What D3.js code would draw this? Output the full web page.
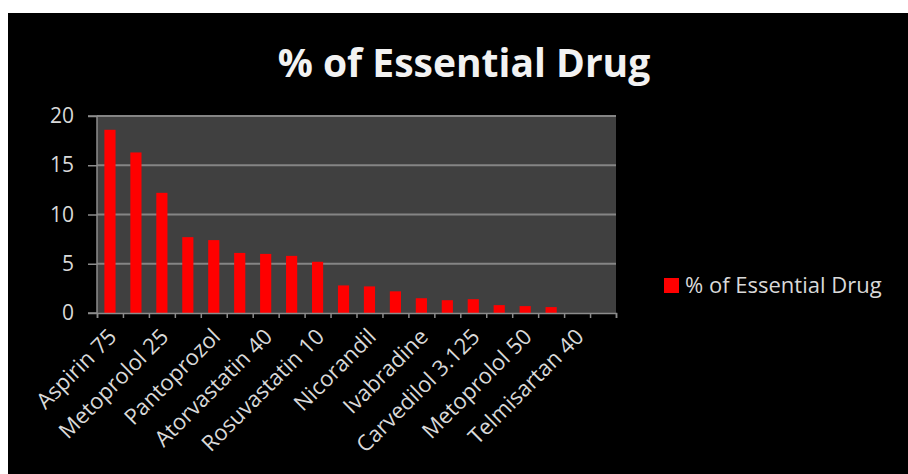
<!DOCTYPE html>
<html lang="en">
<head>
    <meta charset="utf-8">
    <title>% of Essential Drug</title>
    <style>
        body{ margin:0; background:#fff; }
        text{ font-family: "Open Sans", sans-serif; }
    </style>
    <script type="text/javascript" src="https://d3js.org/d3.v7.min.js"></script>
</head>
<body>
    <div class="chart"></div>

    <script type="text/javascript">
        // DATA ------------------------------
        // only every other category name is printed on the axis, the rest are unreadable
        const drugs = ["Aspirin 75", null, "Metoprolol 25", null, "Pantoprozol", null,
            "Atorvastatin 40", null, "Rosuvastatin 10", null, "Nicorandil", null,
            "Ivabradine", null, "Carvedilol 3.125", null, "Metoprolol 50", null,
            "Telmisartan 40", null];
        const percent = [18.6, 16.3, 12.2, 7.7, 7.4, 6.1, 6.0, 5.8, 5.2, 2.8,
            2.7, 2.2, 1.5, 1.3, 1.4, 0.8, 0.7, 0.6, 0, 0];
        const yTicks = [0, 5, 10, 15, 20];
        const seriesName = "% of Essential Drug";

        const data = drugs.map((d, i) => ({idx: i, name: d, value: percent[i]}));

        // CHART INIT ------------------------------
        const W = 908, H = 474;
        const margin = ({top: 116, right: 292, bottom: 161, left: 97});
        const w = W - margin.left - margin.right;
        const h = H - margin.top - margin.bottom;

        const svg = d3.select(".chart")
            .append("svg")
            .attr("width", W)
            .attr("height", H);

        // black card with a thin white edge on top/left
        svg.append("rect")
            .attr("x", 8).attr("y", 13)
            .attr("width", W - 8).attr("height", H - 13)
            .attr("fill", "#000");

        svg.append("text")
            .attr("x", 464)
            .attr("y", 77)
            .attr("text-anchor", "middle")
            .attr("font-size", 39)
            .attr("font-weight", "bold")
            .attr("fill", "#f2f2f2")
            .text(seriesName);

        const g = svg.append("g")
            .attr("transform", `translate(${margin.left},${margin.top})`);

        // scales
        const xBand = d3.scaleBand()
            .domain(data.map(d => d.idx))
            .range([0, w])
            .paddingInner(0.57)
            .paddingOuter(0.285);

        const xEdge = d3.scaleLinear()
            .domain([0, data.length])
            .range([0, w]);

        const yScale = d3.scaleLinear()
            .domain([0, 20])
            .range([h, 0]);

        // plot area + gridlines
        g.append("rect")
            .attr("width", w).attr("height", h)
            .attr("fill", "#404040");

        g.selectAll(".grid")
            .data(yTicks.filter(t => t > 0))
            .join("line")
            .attr("class", "grid")
            .attr("x1", 0).attr("x2", w)
            .attr("y1", d => yScale(d)).attr("y2", d => yScale(d))
            .attr("stroke", "#858585")
            .attr("stroke-width", 2);

        // bars
        g.selectAll(".bar")
            .data(data)
            .join("rect")
            .attr("class", "bar")
            .attr("x", d => xBand(d.idx))
            .attr("y", d => yScale(d.value))
            .attr("width", xBand.bandwidth())
            .attr("height", d => h - yScale(d.value))
            .attr("fill", "#ff0000");

        // axes
        const yAxis = d3.axisLeft(yScale)
            .tickValues(yTicks)
            .tickSize(9)
            .tickPadding(14);

        const yAxisDisplay = g.append("g")
            .attr("class", "axis y-axis")
            .call(yAxis);

        const xAxis = d3.axisBottom(xEdge)
            .tickValues(d3.range(data.length + 1))
            .tickSize(5)
            .tickFormat("");

        const xAxisDisplay = g.append("g")
            .attr("class", "axis x-axis")
            .attr("transform", `translate(0, ${h})`)
            .call(xAxis);

        g.selectAll(".axis path, .axis line")
            .attr("stroke", "#8c8c8c")
            .attr("stroke-width", 1.5);
        yAxisDisplay.select(".domain").attr("d", `M-9,0H0V${h}H-9`);
        g.selectAll(".axis text")
            .attr("fill", "#d9d9d9")
            .attr("font-size", 21)
            .attr("font-family", "'Open Sans', sans-serif");

        // slanted category labels (only the printed ones)
        g.selectAll(".xlabel")
            .data(data.filter(d => d.name))
            .join("text")
            .attr("class", "xlabel")
            .attr("transform", d => `translate(${xBand(d.idx) + xBand.bandwidth() / 2 + 8}, ${h + 25}) rotate(-45)`)
            .attr("text-anchor", "end")
            .attr("font-size", 22)
            .attr("fill", "#d9d9d9")
            .text(d => d.name);

        // legend
        const legend = svg.append("g")
            .attr("transform", "translate(664, 278)");
        legend.append("rect")
            .attr("width", 15).attr("height", 15)
            .attr("fill", "#ff0000");
        legend.append("text")
            .attr("x", 21).attr("y", 15)
            .attr("font-size", 22)
            .attr("fill", "#d9d9d9")
            .text(seriesName);
    </script>
</body>
</html>
